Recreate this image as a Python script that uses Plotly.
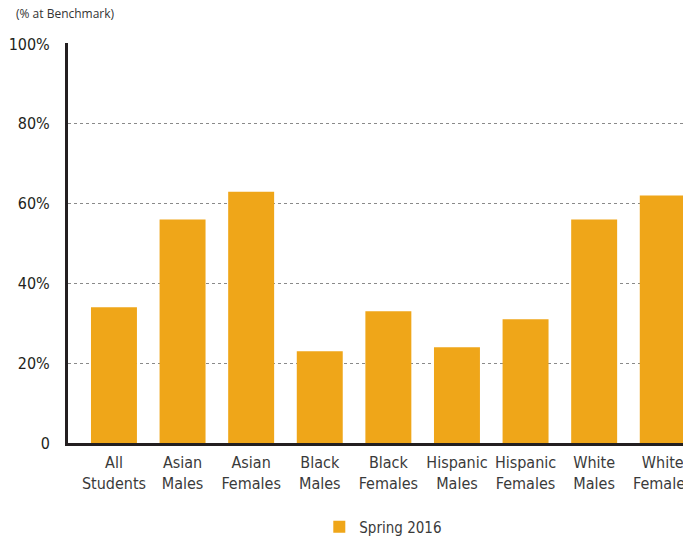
import plotly.graph_objects as go

groups = ['All<br>Students', 'Asian<br>Males', 'Asian<br>Females', 'Black<br>Males', 'Black<br>Females',
          'Hispanic<br>Males', 'Hispanic<br>Females', 'White<br>Males', 'White<br>Females']
spring_2016 = [34, 56, 63, 23, 33, 24, 31, 56, 62]
y_ticks = [0, 20, 40, 60, 80, 100]
y_tick_labels = ['0', '20%', '40%', '60%', '80%', '100%']

COND = '"DejaVu Sans Condensed"'

fig = go.Figure()
fig.add_trace(go.Bar(
    x=list(range(len(groups))),
    y=spring_2016,
    name='Spring 2016',
    marker=dict(color='#EFA619', line=dict(width=0)),
    width=0.67,
))

# page body adds an 8px margin, so the figure sits 8px right/down of the window corner
fig.update_layout(
    width=675, height=530,
    margin=dict(l=60, r=0, t=35, b=95, autoexpand=False),
    plot_bgcolor='white', paper_bgcolor='white',
    showlegend=True,
    legend=dict(orientation='h', x=0.556, xanchor='center', xref='container',
                y=1 - 519 / 530, yanchor='middle', yref='container',
                font=dict(family=COND, size=15, color='#3a3a3a')),
    annotations=[dict(text='(% at Benchmark)', x=-54 / 615, y=1 + 30 / 400, xref='paper', yref='paper',
                      xanchor='left', yanchor='middle', showarrow=False,
                      font=dict(family='"Open Sans", sans-serif', size=12, color='#333'))],
)

fig.update_xaxes(
    range=[-0.67, 8.295],
    tickmode='array', tickvals=list(range(len(groups))), ticktext=groups,
    tickfont=dict(family=COND, size=16, color='#3a3a3a'),
    ticklabeloverflow='allow', ticklabelstandoff=3,
    showline=True, linecolor='#231f20', linewidth=3,
    showgrid=False, ticks='', zeroline=False, automargin=False,
)
fig.update_yaxes(
    range=[0, 100.25],
    tickmode='array', tickvals=y_ticks, ticktext=y_tick_labels,
    tickfont=dict(family=COND, size=16, color='#231f20'),
    ticklabelstandoff=12,
    showline=True, linecolor='#231f20', linewidth=3,
    showgrid=True, gridcolor='#8a8a8a', gridwidth=1, griddash='3px,3px',
    zeroline=False, ticks='', automargin=False,
)

fig.write_html("out.html")
